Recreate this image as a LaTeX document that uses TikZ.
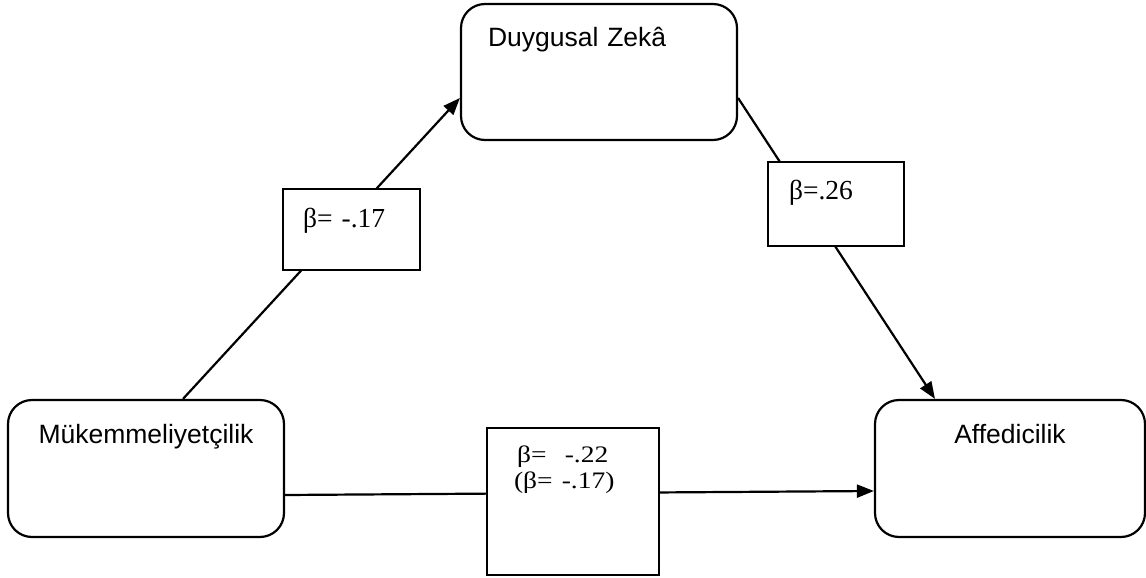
\documentclass[tikz,border=0pt]{standalone}
\usepackage{fontspec}
\setmainfont{Liberation Serif}
\newfontfamily\arialf{Liberation Sans}
\usetikzlibrary{arrows.meta}
\begin{document}
\begin{tikzpicture}[x=1pt,y=-1pt,
  bigbox/.style={draw, line width=2.2pt, rounded corners=24pt, inner sep=0pt,
    font=\arialf\fontsize{26.5}{30}\selectfont, minimum width=276pt, text height=43pt},
  betabox/.style={draw, fill=white, line width=2pt, inner ysep=0pt,
    font=\fontsize{27.5}{27}\selectfont, align=left},
  conn/.style={line width=2.2pt, -{Triangle[length=17pt,width=13pt]}}]
\useasboundingbox (0,0) rectangle (1146,578);
% main boxes
\node[bigbox, text depth=94pt] (muk) at (146,468.5) {Mükemmeliyetçilik};
\node[bigbox, text depth=93pt, text width=222pt, inner xsep=27pt, align=left] (duy) at (599,72) {Duygusal Zekâ};
\node[bigbox, minimum width=270pt, text depth=94pt] (aff) at (1010,468.5) {Affedicilik};
% connectors
\draw[conn] ([xshift=37pt]muk.north) -- ([yshift=-26pt]duy.west);
\draw[conn] ([yshift=-26pt]duy.east) -- ([xshift=-75pt]aff.north);
\draw[conn] ([yshift=-26.5pt]muk.east) -- ([yshift=-22.5pt]aff.west);
% coefficient boxes
\node[betabox, inner xsep=20pt, text width=97pt, text height=38pt, text depth=43pt] (b1) at (351.5,229.5) {β= -.17};
\node[betabox, inner xsep=21pt, text width=94pt, text height=37pt, text depth=47pt] (b2) at (836,204) {β=.26};
\node[betabox, inner xsep=27pt, text width=118pt, text height=34pt, text depth=113pt] (b3) at (573,501.5)
  {\hspace*{3pt}\scalebox{1}[0.86]{β=\ \ -.22}\\[-1pt]\scalebox{1}[0.86]{(β= -.17)}};
\end{tikzpicture}
\end{document}
